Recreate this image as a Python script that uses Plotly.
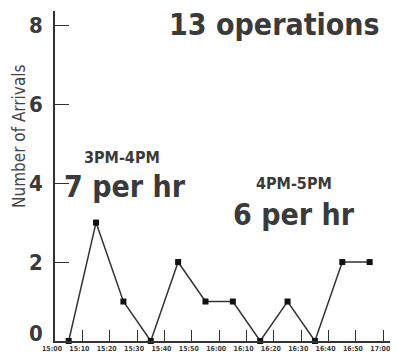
import plotly.graph_objects as go

times = ["15:05", "15:15", "15:25", "15:35", "15:45", "15:55",
         "16:05", "16:15", "16:25", "16:35", "16:45", "16:55"]
arrivals = [0, 3, 1, 0, 2, 1, 1, 0, 1, 0, 2, 2]
tick_labels = ["15:00", "15:10", "15:20", "15:30", "15:40", "15:50", "16:00",
               "16:10", "16:20", "16:30", "16:40", "16:50", "17:00"]
y_ticks = [0, 2, 4, 6, 8]
y_tick_labels = ["", "2", "4", "6", "8"]  # "0" is drawn slightly raised below

DAY = "2020-01-01 "
x = [DAY + t for t in times]
tickvals = [DAY + t for t in tick_labels]

# page has an 8px body margin; figure placed at (8, 8)
OFF = 8
W, H = 398 - OFF, 354 - OFF
L, R, T, B = 55 - OFF, 1, 11 - OFF, 13
PW, PH = W - L - R, H - T - B

def px(X):  # page pixel -> paper
    return (X - OFF - L) / PW

def py(Y):
    return (H - B - (Y - OFF)) / PH

COND = "DejaVu Sans Condensed, Liberation Sans Narrow, Roboto, Arial"
TXT = "#3a3a3a"

fig = go.Figure()
fig.add_trace(go.Scatter(
    x=x, y=arrivals, mode="lines+markers",
    line=dict(color="#333333", width=1.5),
    marker=dict(symbol="square", size=6, color="#111111"),
    cliponaxis=False, showlegend=False,
))

fig.update_layout(
    width=W, height=H,
    margin=dict(l=L, r=R, t=T, b=B),
    paper_bgcolor="white", plot_bgcolor="white",
    xaxis=dict(
        type="date",
        range=[DAY + "15:00", DAY + "17:05"],
        tickvals=tickvals, ticktext=tick_labels,
        ticks="inside", ticklen=11, tickwidth=1.2, tickcolor="#333333",
        showline=True, linecolor="#333333", linewidth=1.5,
        showgrid=False, zeroline=False,
        tickfont=dict(family=COND, size=7, color=TXT, weight="bold"),
        ticklabelshift=-3, ticklabelstandoff=0,
        automargin=False,
    ),
    yaxis=dict(
        range=[0, 8.36],
        tickvals=y_ticks, ticktext=y_tick_labels,
        ticks="inside", ticklen=14, tickwidth=1.2, tickcolor="#333333",
        showline=True, linecolor="#333333", linewidth=1.5,
        showgrid=False, zeroline=False,
        tickfont=dict(family=COND, size=22, color=TXT, weight="bold"),
        ticklabelstandoff=6,
        automargin=False,
    ),
)

ann = [
    ("0", 36, 333, 22, "bold", TXT, 0),
    ("13 operations", 274, 24, 30, "bold", TXT, 0),
    ("3PM-4PM", 122, 157, 16, "bold", TXT, 0),
    ("7 per hr", 125, 186, 30, "bold", TXT, 0),
    ("4PM-5PM", 294, 184, 16, "bold", TXT, 0),
    ("6 per hr", 294, 214, 30, "bold", TXT, 0),
    ("Number of Arrivals", 19, 136, 17, "normal", "#444444", -90),
]
for text, X, Y, size, weight, color, ang in ann:
    fig.add_annotation(
        text=text, x=px(X), y=py(Y), xref="paper", yref="paper",
        xanchor="center", yanchor="middle", showarrow=False,
        textangle=ang,
        font=dict(family=COND, size=size, color=color, weight=weight),
    )

fig.write_html("out.html")
